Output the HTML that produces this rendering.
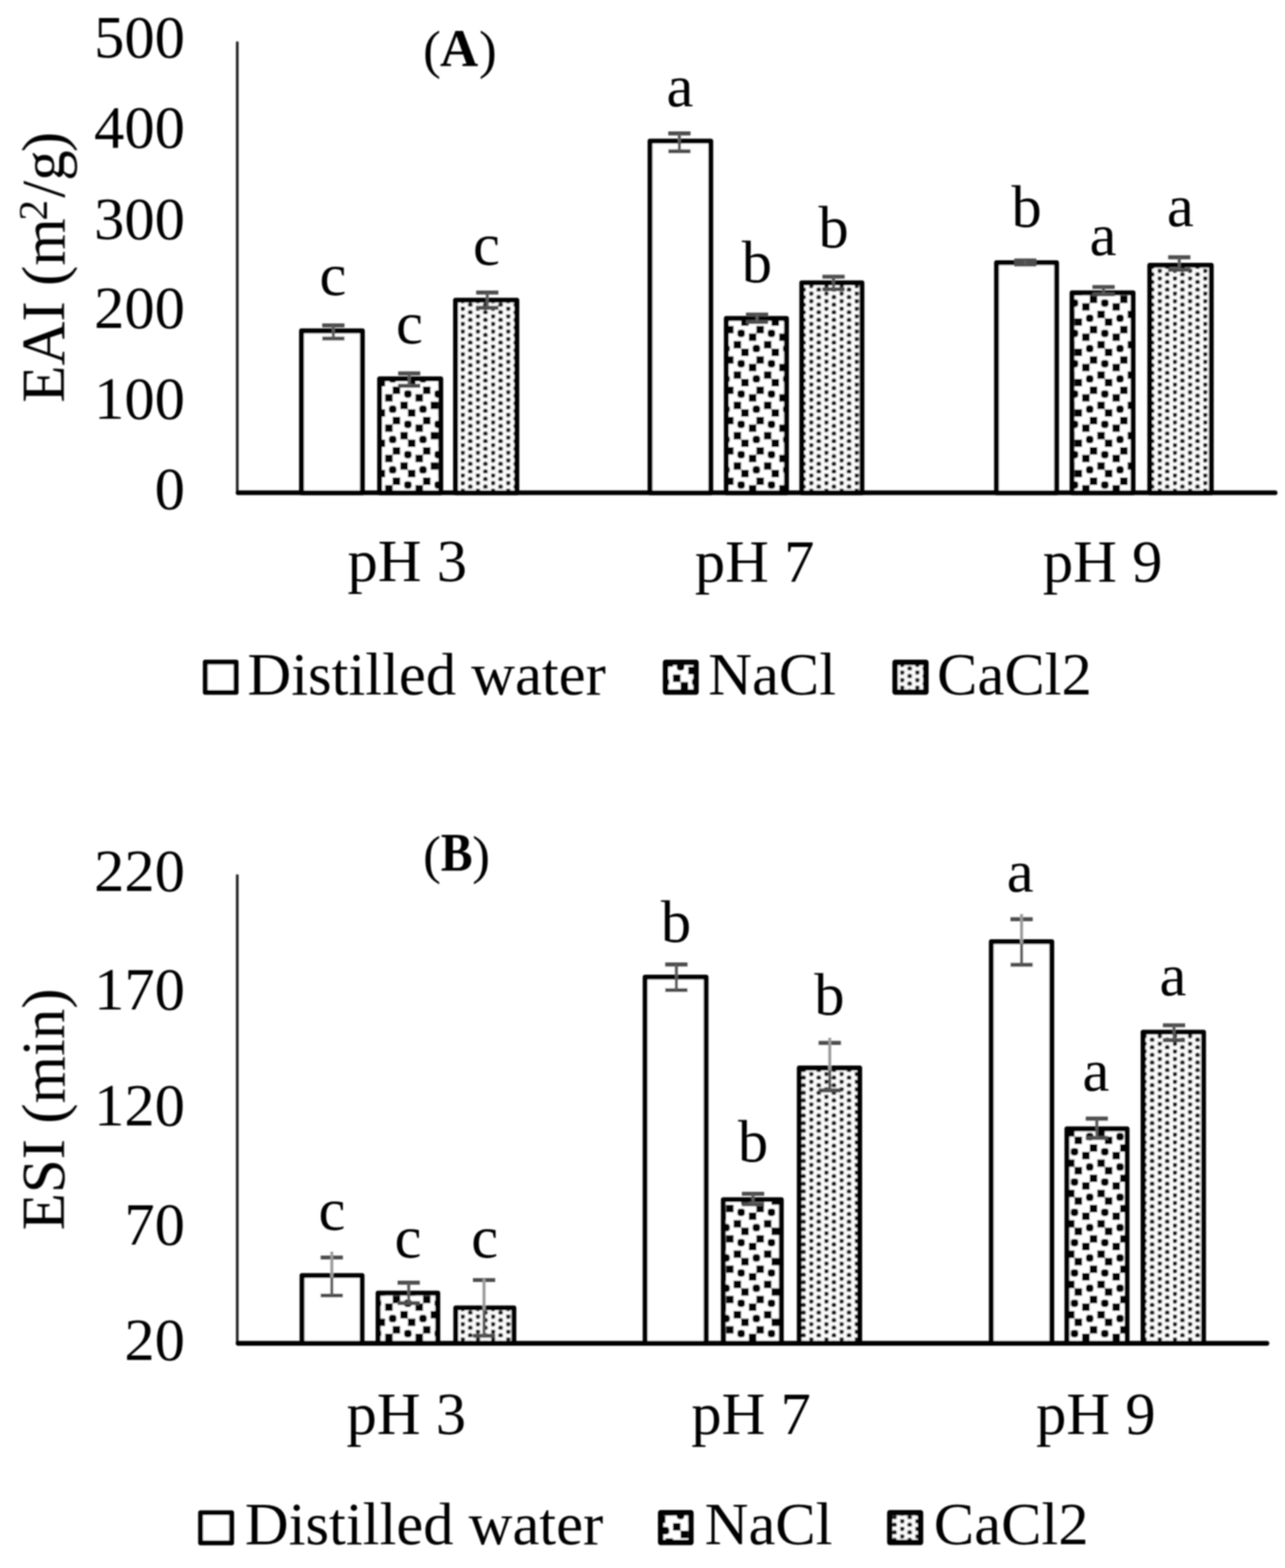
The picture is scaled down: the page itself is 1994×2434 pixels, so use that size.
<!DOCTYPE html>
<html lang="en"><head><meta charset="utf-8"><title>EAI and ESI charts</title>
<style>
html,body{margin:0;padding:0;background:#fff;}
body{width:1994px;height:2434px;overflow:hidden;}
svg{display:block;font-family:"Liberation Serif",serif;fill:#000;}
</style></head>
<body>
<svg width="1994" height="2434" viewBox="0 0 1994 2434">
<rect width="1994" height="2434" fill="#fff"/>
<g filter="url(#soft)">
<defs><filter id="soft" filterUnits="userSpaceOnUse" x="0" y="0" width="1994" height="2434"><feGaussianBlur stdDeviation="0.8"/></filter><pattern id="conf" patternUnits="userSpaceOnUse" x="609.37" y="599.92" width="47.024" height="47.050"><rect width="47.024" height="47.050" fill="#fff"/><rect x="0.00" y="0.00" width="11.76" height="11.76" rx="1.2" fill="#000"/><rect x="35.27" y="11.76" width="11.76" height="11.76" rx="1.2" fill="#000"/><rect x="11.76" y="23.53" width="11.76" height="11.76" rx="1.2" fill="#000"/><rect x="23.51" y="35.29" width="11.76" height="11.76" rx="1.2" fill="#000"/><rect x="17.63" y="5.88" width="11.76" height="11.76" rx="4.6" fill="#000"/><rect x="41.15" y="29.41" width="11.76" height="11.76" rx="4.6" fill="#000"/><rect x="-5.88" y="29.41" width="11.76" height="11.76" rx="4.6" fill="#000"/></pattern><pattern id="dots" patternUnits="userSpaceOnUse" x="715.03" y="640.86" width="23.512" height="11.763"><rect width="23.512" height="11.763" fill="#fafafa"/><circle cx="2.94" cy="2.94" r="3.6" fill="#1c1c1c"/><circle cx="14.70" cy="8.82" r="3.6" fill="#1c1c1c"/></pattern></defs>
<rect x="467.90" y="513.60" width="94.40" height="251.30" fill="#fff" stroke="#000" stroke-width="7.6" stroke-linejoin="round"/>
<rect x="589.10" y="588.10" width="94.80" height="176.80" fill="url(#conf)" stroke="#000" stroke-width="7.6" stroke-linejoin="round"/>
<rect x="706.90" y="466.00" width="95.10" height="298.90" fill="url(#dots)" stroke="#000" stroke-width="7.6" stroke-linejoin="round"/>
<rect x="1008.70" y="219.00" width="94.20" height="545.90" fill="#fff" stroke="#000" stroke-width="7.6" stroke-linejoin="round"/>
<rect x="1127.10" y="494.40" width="93.30" height="270.50" fill="url(#conf)" stroke="#000" stroke-width="7.6" stroke-linejoin="round"/>
<rect x="1244.20" y="439.10" width="93.30" height="325.80" fill="url(#dots)" stroke="#000" stroke-width="7.6" stroke-linejoin="round"/>
<rect x="1546.40" y="407.80" width="93.10" height="357.10" fill="#fff" stroke="#000" stroke-width="7.6" stroke-linejoin="round"/>
<rect x="1663.60" y="454.60" width="94.60" height="310.30" fill="url(#conf)" stroke="#000" stroke-width="7.6" stroke-linejoin="round"/>
<rect x="1784.20" y="411.70" width="95.40" height="353.20" fill="url(#dots)" stroke="#000" stroke-width="7.6" stroke-linejoin="round"/>
<line x1="368.2" y1="64.5" x2="368.2" y2="764.9" stroke="#222" stroke-width="4.2"/>
<line x1="369.5" y1="764.9" x2="1978.6" y2="764.9" stroke="#000" stroke-width="7.4" stroke-linecap="round"/>
<g fill="none"><path d="M500.0 505.2H534.5M500.0 525.5H534.5" stroke="#4d4d4d" stroke-width="6.2"/><path d="M517.2 505.2V525.5" stroke="#5a5a5a" stroke-width="4.6"/></g>
<g fill="none"><path d="M617.8 579.7H652.2M617.8 598.8H652.2" stroke="#4d4d4d" stroke-width="6.2"/><path d="M635.0 579.7V598.8" stroke="#5a5a5a" stroke-width="4.6"/></g>
<g fill="none"><path d="M738.9 454.1H773.4M738.9 477.9H773.4" stroke="#4d4d4d" stroke-width="6.2"/><path d="M756.1 454.1V477.9" stroke="#5a5a5a" stroke-width="4.6"/></g>
<g fill="none"><path d="M1037.0 207.1H1071.5M1037.0 234.8H1071.5" stroke="#4d4d4d" stroke-width="6.2"/><path d="M1054.2 207.1V234.8" stroke="#5a5a5a" stroke-width="4.6"/></g>
<g fill="none"><path d="M1157.5 488.3H1192.0M1157.5 499.8H1192.0" stroke="#4d4d4d" stroke-width="6.2"/><path d="M1174.7 488.3V499.8" stroke="#5a5a5a" stroke-width="4.6"/></g>
<g fill="none"><path d="M1276.2 429.5H1310.7M1276.2 449.0H1310.7" stroke="#4d4d4d" stroke-width="6.2"/><path d="M1293.4 429.5V449.0" stroke="#5a5a5a" stroke-width="4.6"/></g>
<g fill="none"><path d="M1573.8 404.3H1608.2M1573.8 410.7H1608.2" stroke="#4d4d4d" stroke-width="6.2"/><path d="M1591.0 404.3V410.7" stroke="#5a5a5a" stroke-width="4.6"/></g>
<g fill="none"><path d="M1695.2 445.5H1729.7M1695.2 457.0H1729.7" stroke="#4d4d4d" stroke-width="6.2"/><path d="M1712.4 445.5V457.0" stroke="#5a5a5a" stroke-width="4.6"/></g>
<g fill="none"><path d="M1812.7 399.4H1847.2M1812.7 419.0H1847.2" stroke="#4d4d4d" stroke-width="6.2"/><path d="M1829.9 399.4V419.0" stroke="#5a5a5a" stroke-width="4.6"/></g>
<text x="516.5" y="457.6" font-size="94" text-anchor="middle">c</text>
<text x="635.3" y="532.5" font-size="94" text-anchor="middle">c</text>
<text x="754.8" y="411.2" font-size="94" text-anchor="middle">c</text>
<text x="1055" y="164.7" font-size="94" text-anchor="middle">a</text>
<text x="1174.5" y="437.7" font-size="94" text-anchor="middle">b</text>
<text x="1293.5" y="384" font-size="94" text-anchor="middle">b</text>
<text x="1593" y="352" font-size="94" text-anchor="middle">b</text>
<text x="1711.5" y="396" font-size="94" text-anchor="middle">a</text>
<text x="1831.5" y="351" font-size="94" text-anchor="middle">a</text>
<text x="287.0" y="89.0" font-size="94" text-anchor="end">500</text>
<text x="287.0" y="229.3" font-size="94" text-anchor="end">400</text>
<text x="287.0" y="370.8" font-size="94" text-anchor="end">300</text>
<text x="287.0" y="508.6" font-size="94" text-anchor="end">200</text>
<text x="287.0" y="649.8" font-size="94" text-anchor="end">100</text>
<text x="287.0" y="790.4" font-size="94" text-anchor="end">0</text>
<text transform="translate(99.8,414.9) rotate(-90)" font-size="94.6" text-anchor="middle">EAI (m<tspan dy="-27.5" dx="-3.4" font-size="64">2</tspan><tspan dy="27.5" dx="3.4">/g</tspan><tspan dx="-2.7">)</tspan></text>
<text font-size="82.8"><tspan x="656.4" y="104.9">(</tspan><tspan x="682.7" y="101.8" font-size="82.2" font-weight="bold">A</tspan><tspan x="743.2" y="104.9">)</tspan></text>
<text x="632" y="902.3" font-size="94" text-anchor="middle">pH 3</text>
<text x="1171" y="903.3" font-size="94" text-anchor="middle">pH 7</text>
<text x="1711" y="903.3" font-size="94" text-anchor="middle">pH 9</text>
<rect x="318.60" y="1027.80" width="47.70" height="46.90" fill="#fff" stroke="#000" stroke-width="7.6" stroke-linejoin="round"/>
<text x="384" y="1078" font-size="94" text-anchor="start">Distilled water</text>
<rect x="1032.80" y="1028.20" width="47.20" height="46.10" fill="url(#conf)" stroke="#000" stroke-width="8.4" stroke-linejoin="round"/>
<text x="1099" y="1078" font-size="94" text-anchor="start">NaCl</text>
<rect x="1389.00" y="1028.20" width="47.70" height="46.10" fill="url(#dots)" stroke="#000" stroke-width="8.4" stroke-linejoin="round"/>
<text x="1454" y="1078" font-size="94" text-anchor="start">CaCl2</text>
<rect x="468.70" y="1980.00" width="93.10" height="105.30" fill="#fff" stroke="#000" stroke-width="7.6" stroke-linejoin="round"/>
<rect x="586.70" y="2007.40" width="92.60" height="77.90" fill="url(#conf)" stroke="#000" stroke-width="7.6" stroke-linejoin="round"/>
<rect x="707.30" y="2030.20" width="90.10" height="55.10" fill="url(#dots)" stroke="#000" stroke-width="7.6" stroke-linejoin="round"/>
<rect x="1001.10" y="1516.70" width="94.50" height="568.60" fill="#fff" stroke="#000" stroke-width="7.6" stroke-linejoin="round"/>
<rect x="1122.50" y="1862.30" width="89.90" height="223.00" fill="url(#conf)" stroke="#000" stroke-width="7.6" stroke-linejoin="round"/>
<rect x="1240.30" y="1657.90" width="93.70" height="427.40" fill="url(#dots)" stroke="#000" stroke-width="7.6" stroke-linejoin="round"/>
<rect x="1538.30" y="1461.70" width="93.80" height="623.60" fill="#fff" stroke="#000" stroke-width="7.6" stroke-linejoin="round"/>
<rect x="1655.60" y="1752.40" width="93.30" height="332.90" fill="url(#conf)" stroke="#000" stroke-width="7.6" stroke-linejoin="round"/>
<rect x="1773.80" y="1602.20" width="93.80" height="483.10" fill="url(#dots)" stroke="#000" stroke-width="7.6" stroke-linejoin="round"/>
<line x1="368.2" y1="1357.5" x2="368.2" y2="2085.3" stroke="#222" stroke-width="4.2"/>
<line x1="369.5" y1="2085.3" x2="1965.9" y2="2085.3" stroke="#000" stroke-width="7.4" stroke-linecap="round"/>
<g fill="none"><path d="M497.6 1952H532.1M497.6 2011H532.1" stroke="#4d4d4d" stroke-width="6.2"/><path d="M514.9 1976.2V2011" stroke="#5a5a5a" stroke-width="4.6"/><path d="M514.9 1943V1983.8" stroke="#9b9b9b" stroke-width="4.6"/></g>
<g fill="none"><path d="M617.0 1991.2H651.5M617.0 2022.8H651.5" stroke="#4d4d4d" stroke-width="6.2"/><path d="M634.2 1991.2V2022.8" stroke="#5a5a5a" stroke-width="4.6"/></g>
<g fill="none"><path d="M733.9 1987H768.4M733.9 2073.5H768.4" stroke="#4d4d4d" stroke-width="6.2"/><path d="M751.1 2026.4V2073.5" stroke="#5a5a5a" stroke-width="4.6"/><path d="M751.1 1985V2034.0" stroke="#9b9b9b" stroke-width="4.6"/></g>
<g fill="none"><path d="M1032.3 1497.2H1066.8M1032.3 1537H1066.8" stroke="#4d4d4d" stroke-width="6.2"/><path d="M1049.6 1497.2V1537" stroke="#5a5a5a" stroke-width="4.6"/></g>
<g fill="none"><path d="M1151.2 1853.2H1185.8M1151.2 1869.4H1185.8" stroke="#4d4d4d" stroke-width="6.2"/><path d="M1168.5 1853.2V1869.4" stroke="#5a5a5a" stroke-width="4.6"/></g>
<g fill="none"><path d="M1270.3 1618.9H1304.8M1270.3 1692.6H1304.8" stroke="#4d4d4d" stroke-width="6.2"/><path d="M1287.6 1654.1V1692.6" stroke="#5a5a5a" stroke-width="4.6"/><path d="M1287.6 1610.9V1661.6999999999998" stroke="#9b9b9b" stroke-width="4.6"/></g>
<g fill="none"><path d="M1568.0 1426.8H1602.5M1568.0 1497.7H1602.5" stroke="#4d4d4d" stroke-width="6.2"/><path d="M1585.2 1457.9V1497.7" stroke="#5a5a5a" stroke-width="4.6"/><path d="M1585.2 1418.8V1465.5" stroke="#9b9b9b" stroke-width="4.6"/></g>
<g fill="none"><path d="M1684.8 1736.4H1719.2M1684.8 1766.4H1719.2" stroke="#4d4d4d" stroke-width="6.2"/><path d="M1702 1736.4V1766.4" stroke="#5a5a5a" stroke-width="4.6"/></g>
<g fill="none"><path d="M1804.5 1591.5H1839.0M1804.5 1614.6H1839.0" stroke="#4d4d4d" stroke-width="6.2"/><path d="M1821.8 1591.5V1614.6" stroke="#5a5a5a" stroke-width="4.6"/></g>
<text x="515" y="1908.5" font-size="94" text-anchor="middle">c</text>
<text x="633" y="1951.5" font-size="94" text-anchor="middle">c</text>
<text x="752" y="1951.5" font-size="94" text-anchor="middle">c</text>
<text x="1049" y="1461.5" font-size="94" text-anchor="middle">b</text>
<text x="1168.5" y="1802.6" font-size="94" text-anchor="middle">b</text>
<text x="1287" y="1575" font-size="94" text-anchor="middle">b</text>
<text x="1583" y="1384" font-size="94" text-anchor="middle">a</text>
<text x="1700.5" y="1693" font-size="94" text-anchor="middle">a</text>
<text x="1820.2" y="1544.5" font-size="94" text-anchor="middle">a</text>
<text x="287.0" y="1382.5" font-size="94" text-anchor="end">220</text>
<text x="287.0" y="1566.8" font-size="94" text-anchor="end">170</text>
<text x="287.0" y="1747.4" font-size="94" text-anchor="end">120</text>
<text x="287.0" y="1931.7" font-size="94" text-anchor="end">70</text>
<text x="287.0" y="2111.2" font-size="94" text-anchor="end">20</text>
<text transform="translate(99.8,1722.1) rotate(-90)" font-size="94.6" text-anchor="middle">ESI (min)</text>
<text font-size="83.1"><tspan x="656.4" y="1355.3">(</tspan><tspan x="684.0" y="1352.4" font-size="84" font-weight="bold" textLength="49.30" lengthAdjust="spacingAndGlyphs">B</tspan><tspan x="732.8" y="1355.3">)</tspan></text>
<text x="630.5" y="2226" font-size="94" text-anchor="middle">pH 3</text>
<text x="1165.5" y="2226" font-size="94" text-anchor="middle">pH 7</text>
<text x="1700.5" y="2226" font-size="94" text-anchor="middle">pH 9</text>
<rect x="311.30" y="2348.30" width="48.10" height="46.60" fill="#fff" stroke="#000" stroke-width="7.6" stroke-linejoin="round"/>
<text x="380" y="2397" font-size="94" text-anchor="start">Distilled water</text>
<rect x="1025.20" y="2348.20" width="46.90" height="46.10" fill="url(#conf)" stroke="#000" stroke-width="8.4" stroke-linejoin="round"/>
<text x="1093.5" y="2397" font-size="94" text-anchor="start">NaCl</text>
<rect x="1380.80" y="2348.20" width="47.60" height="46.10" fill="url(#dots)" stroke="#000" stroke-width="8.4" stroke-linejoin="round"/>
<text x="1449" y="2397" font-size="94" text-anchor="start">CaCl2</text>
</g>
</svg>
</body></html>
